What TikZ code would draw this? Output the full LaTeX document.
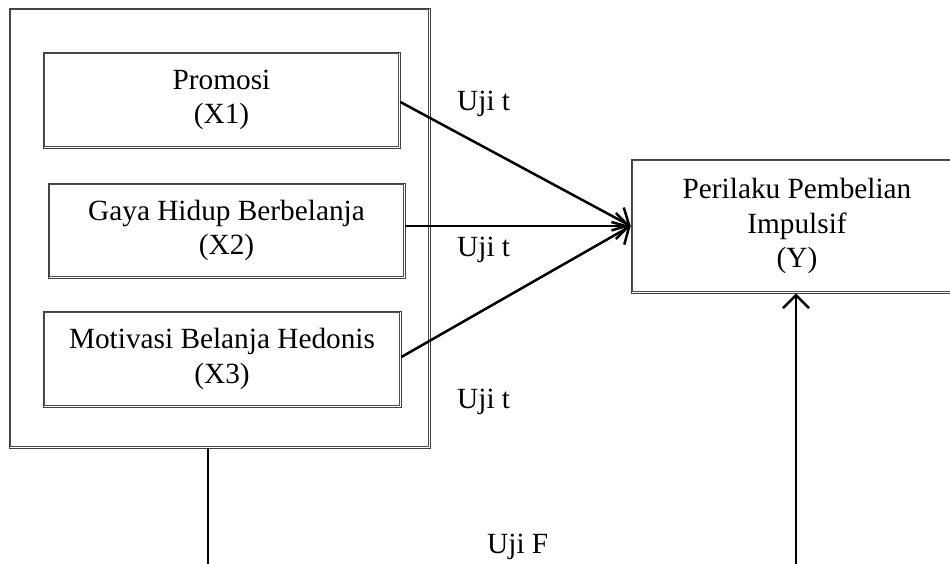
\documentclass[tikz,border=0pt]{standalone}
\usepackage{fontspec}
\setmainfont{Liberation Serif}
\usetikzlibrary{arrows.meta}
\tikzset{
  dbox/.style={draw=gray!50!black, line width=0.7pt, rectangle, inner sep=0pt, align=center, font=\fontsize{29.3}{34.5}\selectfont,
    path picture={\draw[gray!60!black, line width=0.7pt] ([shift={(1.7pt,1.7pt)}]path picture bounding box.south west) rectangle ([shift={(-1.7pt,-1.7pt)}]path picture bounding box.north east);}},
  conn/.style={line width=2.5pt},
  arr/.style={conn, -{Straight Barb[length=13pt,width=26pt,line width=2.5pt]}},
  lbl/.style={font=\fontsize{29.3}{34}\selectfont, inner sep=0pt, anchor=west}
}
\begin{document}
\begin{tikzpicture}[x=1pt,y=-1pt]
\useasboundingbox (0,0) rectangle (950,564);
\clip (0,0) rectangle (950,564);
\node[dbox, minimum width=421pt, minimum height=440pt] (outer) at (219.5,228) {};
\node[dbox, minimum width=357pt, minimum height=96pt] (x1) at (221.5,100) {Promosi\\(X1)};
\node[dbox, minimum width=357pt, minimum height=95pt] (x2) at (226.5,230.5) {Gaya Hidup Berbelanja\\(X2)};
\node[dbox, minimum width=358pt, minimum height=96pt] (x3) at (222,359) {Motivasi Belanja Hedonis\\(X3)};
\node[dbox, minimum width=332pt, minimum height=134pt] (y) at (797,226) {Perilaku Pembelian\\Impulsif\\(Y)};
\coordinate (b1) at (208,566);
\coordinate (b2) at (796,566);
\draw[arr] (x1.east |- 0,102) -- (y.west);
\draw[arr] (x2.east |- 0,226) -- (y.west);
\draw[arr] (x3.east |- 0,357) -- (y.west);
\draw[conn, line width=2pt] (outer.south -| b1) -- (b1);
\draw[arr, line width=2pt] (b2) -- (y.south -| b2);
\node[lbl] (t1) at (457,104) {Uji t};
\node[lbl] (t2) at (457,250) {Uji t};
\node[lbl] (t3) at (457,402) {Uji t};
\node[lbl] (f) at (487,547) {Uji F};
\end{tikzpicture}
\end{document}
